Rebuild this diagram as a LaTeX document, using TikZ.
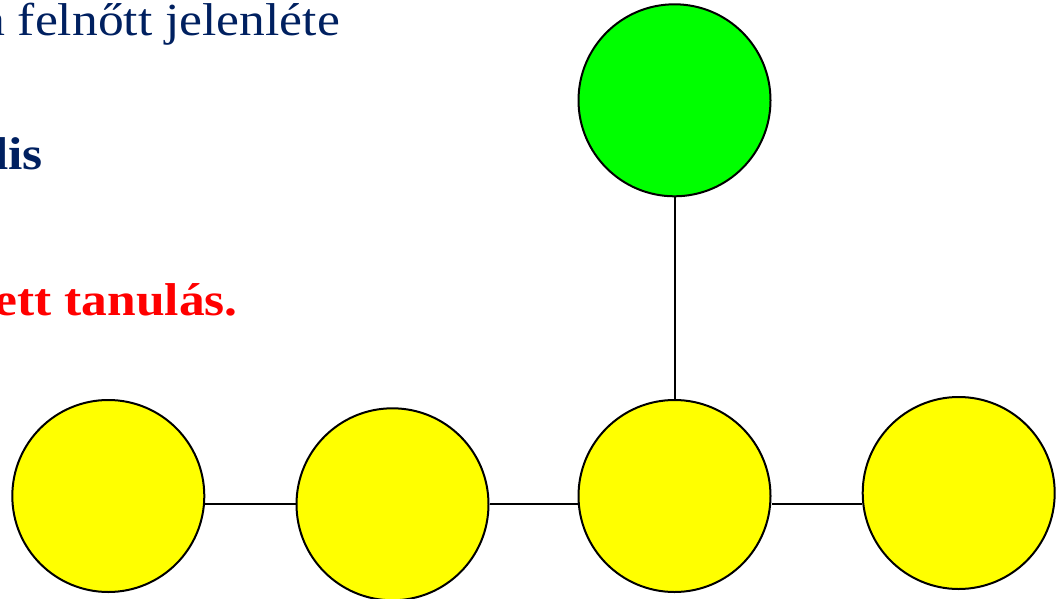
\documentclass[tikz,border=0pt]{standalone}
\usepackage{fontspec}
\setmainfont{Liberation Serif}
\definecolor{txtblue}{RGB}{0,32,96}
\definecolor{txtred}{RGB}{255,0,0}
\definecolor{ballyellow}{RGB}{255,255,0}
\definecolor{ballgreen}{RGB}{0,255,0}
\newcommand{\wideit}[1]{\scalebox{1.12}[1]{#1}}
\begin{document}
\begin{tikzpicture}[x=1pt,y=-1pt,
  ball/.style={circle,draw=black,line width=2pt,minimum size=192pt,inner sep=0pt},
  link/.style={draw=black,line width=2pt},
  bigtext/.style={font=\fontsize{46}{52}\selectfont,anchor=base east,inner sep=0pt}]
\useasboundingbox (0,0) rectangle (1059,599);
\node[bigtext,text=txtblue] (t1) at (340,36) {\wideit{a felnőtt jelenléte}};
\node[bigtext,text=txtblue,font=\fontsize{46}{52}\selectfont\bfseries] (t2) at (43,169) {\wideit{lis}};
\node[bigtext,text=txtred,font=\fontsize{46}{52}\selectfont\bfseries] (t3) at (238,315) {\wideit{ett tanulás.}};
\node[ball,fill=ballyellow] (c1) at (108.3,496) {};
\node[ball,fill=ballyellow] (c2) at (392.5,504.3) {};
\node[ball,fill=ballyellow] (c3) at (674.5,496) {};
\node[ball,fill=ballyellow] (c4) at (958.7,493) {};
\node[ball,fill=ballgreen] (c5) at (674.5,100.3) {};
\draw[link] (c2.west) -- (c2.west -| c1.east);
\draw[link] (c2.east) -- (c2.east -| c3.west);
\draw[link] (c2 -| c3.east) -- (c2 -| c4.west);
\draw[link] (c5) -- (c3);
\end{tikzpicture}
\end{document}
